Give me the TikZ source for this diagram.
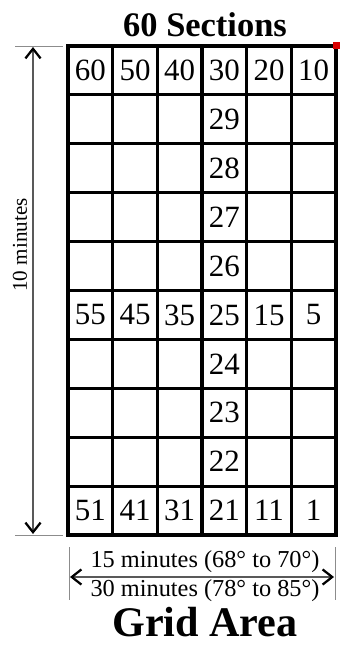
\documentclass[tikz,border=0pt]{standalone}
\usepackage{fontspec}
\setmainfont{Liberation Serif}
\usetikzlibrary{arrows.meta}
\begin{document}
\begin{tikzpicture}[x=0.25mm,y=-0.25mm,
  cell/.style={draw,line width=2.2pt,minimum width=11.17mm,minimum height=12.22mm,inner sep=0pt,font=\fontsize{22}{22}\selectfont},
  extline/.style={draw=black!45,line width=0.6pt},
  dimarrow/.style={black!65,line width=1.1pt,{Straight Barb[length=2.4mm,width=3.8mm,line width=1.6pt,black]}-{Straight Barb[length=2.4mm,width=3.8mm,line width=1.6pt,black]}}]
\useasboundingbox (0,0) rectangle (344,645);

% Title
\node[font=\bfseries\fontsize{24.5}{24.5}\selectfont] (title) at (205,25) {60 Sections};

% Grid of sections, numbered from the right
\foreach \c in {0,...,5}{
  \foreach \r in {0,...,9}{
    \pgfmathtruncatemacro\val{60-10*\c-\r}
    \pgfmathtruncatemacro\shown{(\r==0)||(\r==5)||(\r==9)||(\c==3)}
    \node[cell] (s\c-\r) at ({68+44.67*(\c+0.5)},{46+48.9*(\r+0.5)}) {\ifnum\shown=1 \val\fi};
  }
}

% Red corner mark
\fill[red!85!black] (332.5,42) rectangle (339.5,49);

% Vertical extent
\draw[extline] (15,46) -- (63,46);
\draw[extline] (15,535) -- (63,535);
\coordinate (vtop) at (33,47);
\coordinate (vbot) at (33,534);
\draw[dimarrow] (vtop) -- (vbot);
\node[rotate=90,font=\fontsize{15}{15}\selectfont] (vlabel) at (20,245) {10 minutes};

% Horizontal extent
\draw[extline] (69,547) -- (69,600);
\draw[extline] (335,547) -- (335,600);
\coordinate (hleft) at (70,577);
\coordinate (hright) at (334,577);
\draw[dimarrow] (hleft) -- (hright);
\node[font=\fontsize{17.3}{17.3}\selectfont] (hupper) at (205,562) {15 minutes (68° to 70°)};
\node[font=\fontsize{17.3}{17.3}\selectfont] (hlower) at (205,591) {30 minutes (78° to 85°)};

% Caption
\node[font=\bfseries\fontsize{30}{30}\selectfont,inner sep=1pt] (caption) at (205,622) {Grid Area};
\end{tikzpicture}
\end{document}
